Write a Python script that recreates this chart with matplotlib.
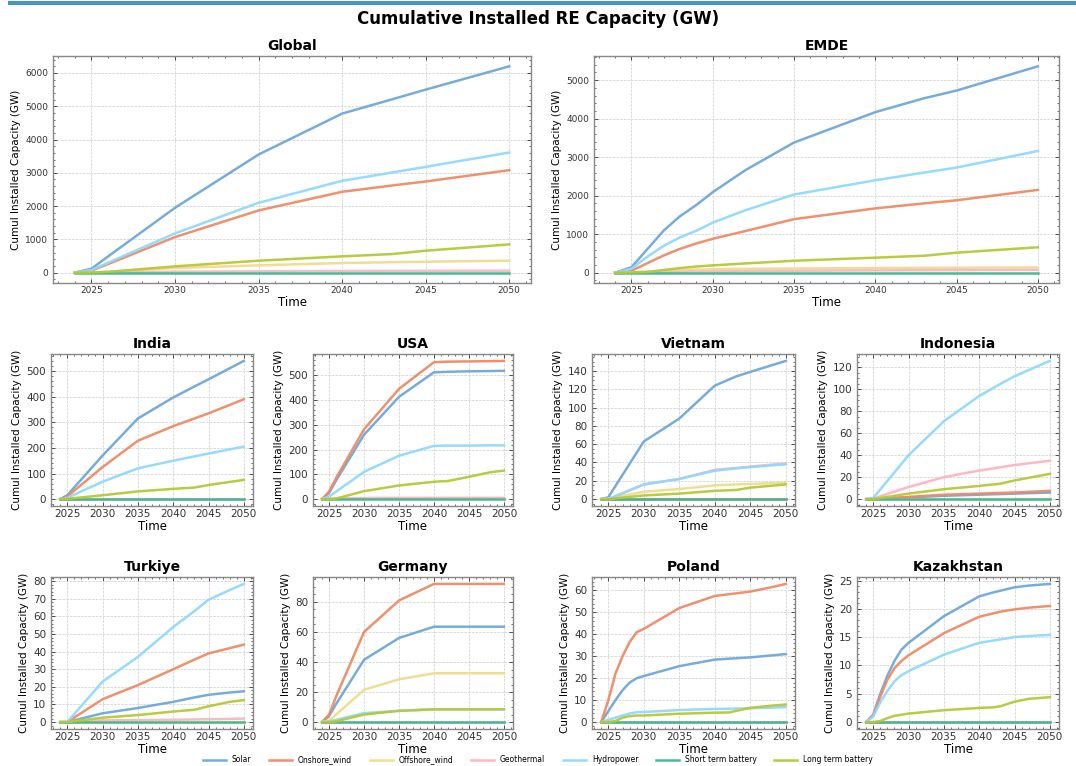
import matplotlib
matplotlib.use("Agg")
import matplotlib.pyplot as plt
from matplotlib.ticker import MultipleLocator, AutoMinorLocator

techs = ["Solar", "Onshore_wind", "Offshore_wind", "Geothermal",
         "Hydropower", "Short term battery", "Long term battery"]
colors = ["#6fa8dc", "#f08a65", "#f0dc8c", "#ffb3c1",
          "#8fd8ff", "#3db892", "#b5c934"]

# ---- data (GW), one dict per region: years + one list per technology ----
global_ = {
    "years": [2024, 2025, 2026, 2030, 2035, 2040, 2043, 2045, 2050],
    "Solar": [0, 120, 490, 1950, 3550, 4780, 5210, 5500, 6200],
    "Onshore_wind": [0, 60, 260, 1070, 1870, 2430, 2620, 2740, 3080],
    "Offshore_wind": [0, 5, 30, 140, 220, 290, 315, 330, 360],
    "Geothermal": [0, 2, 8, 30, 40, 50, 54, 56, 60],
    "Hydropower": [0, 80, 300, 1180, 2100, 2760, 3010, 3180, 3610],
    "Short term battery": [0, 0, 0, 0, 0, 0, 0, 0, 0],
    "Long term battery": [0, 5, 25, 190, 360, 490, 560, 660, 850],
}
emde = {
    "years": [2024, 2025, 2026, 2027, 2028, 2029, 2030, 2032, 2035, 2040, 2043, 2045, 2050],
    "Solar": [0, 140, 620, 1100, 1470, 1760, 2090, 2660, 3380, 4170, 4530, 4730, 5360],
    "Onshore_wind": [0, 50, 250, 450, 620, 760, 880, 1080, 1390, 1670, 1800, 1880, 2150],
    "Offshore_wind": [0, 10, 30, 50, 65, 80, 90, 100, 110, 120, 125, 128, 135],
    "Geothermal": [0, 2, 8, 15, 22, 28, 32, 40, 50, 60, 64, 66, 72],
    "Hydropower": [0, 100, 420, 700, 920, 1090, 1300, 1620, 2030, 2400, 2600, 2730, 3160],
    "Short term battery": [0, 0, 0, 0, 0, 0, 0, 0, 0, 0, 0, 0, 0],
    "Long term battery": [0, 5, 20, 70, 120, 160, 190, 240, 310, 390, 440, 520, 660],
}
india = {
    "years": [2024, 2025, 2030, 2035, 2040, 2043, 2045, 2050],
    "Solar": [0, 15, 170, 315, 397, 440, 468, 540],
    "Onshore_wind": [0, 10, 125, 228, 285, 315, 335, 390],
    "Offshore_wind": [0, 0, 0, 0, 0, 0, 0, 0],
    "Geothermal": [0, 0, 0, 0, 0, 0, 0, 0],
    "Hydropower": [0, 5, 68, 120, 150, 167, 178, 205],
    "Short term battery": [0, 0, 0, 0, 0, 0, 0, 0],
    "Long term battery": [0, 1, 15, 30, 40, 45, 55, 75],
}
usa = {
    "years": [2024, 2025, 2026, 2030, 2035, 2040, 2042, 2045, 2048, 2050],
    "Solar": [0, 25, 75, 260, 413, 512, 514, 516, 517, 518],
    "Onshore_wind": [0, 30, 85, 282, 445, 553, 555, 556, 557, 558],
    "Offshore_wind": [0, 0, 1, 2, 2, 3, 3, 3, 3, 3],
    "Geothermal": [0, 1, 2, 4, 5, 5, 5, 5, 5, 5],
    "Hydropower": [0, 10, 30, 110, 175, 215, 216, 216, 217, 217],
    "Short term battery": [0, 0, 0, 0, 0, 0, 0, 0, 0, 0],
    "Long term battery": [0, 0, 2, 32, 55, 70, 73, 90, 108, 115],
}
vietnam = {
    "years": [2024, 2025, 2030, 2035, 2040, 2043, 2045, 2050],
    "Solar": [0, 2, 63, 88, 124, 134, 139, 151],
    "Onshore_wind": [0, 0, 0, 0, 0, 0, 0, 0],
    "Offshore_wind": [0, 0.5, 8, 11, 15, 16, 16.5, 18],
    "Geothermal": [0, 0, 16, 22, 32, 34, 35.5, 39],
    "Hydropower": [0, 0, 16, 22, 31, 33.5, 35, 38],
    "Short term battery": [0, 0, 0, 0, 0, 0, 0, 0],
    "Long term battery": [0, 0, 4, 6, 9, 10, 12.5, 16],
}
indonesia = {
    "years": [2024, 2025, 2030, 2035, 2040, 2043, 2045, 2050],
    "Solar": [0, 0, 1.5, 3, 4, 4.6, 5, 6],
    "Onshore_wind": [0, 0, 2, 4, 5, 5.6, 6, 7.5],
    "Offshore_wind": [0, 0, 0, 0, 0, 0, 0, 0],
    "Geothermal": [0, 0.5, 11, 20, 26, 29, 31, 35],
    "Hydropower": [0, 1, 40, 71, 94, 105, 112, 126],
    "Short term battery": [0, 0, 0, 0, 0, 0, 0, 0],
    "Long term battery": [0, 0, 5, 9, 12, 14, 17, 23],
}
turkiye = {
    "years": [2024, 2025, 2030, 2035, 2040, 2043, 2045, 2048, 2050],
    "Solar": [0, 0, 5, 8, 11.5, 14, 15.5, 16.8, 17.5],
    "Onshore_wind": [0, 0, 13, 21, 30, 35.5, 39, 42, 44],
    "Offshore_wind": [0, 0, 0, 0, 0, 0, 0, 0, 0],
    "Geothermal": [0, 0, 1, 1.1, 1.3, 1.5, 1.6, 1.8, 2],
    "Hydropower": [0, 0, 23, 37, 54, 63, 69.5, 75, 78.5],
    "Short term battery": [0, 0, 0, 0, 0, 0, 0, 0, 0],
    "Long term battery": [0, 0, 2.5, 4, 6, 7, 9, 11.5, 12.5],
}
germany = {
    "years": [2024, 2025, 2026, 2030, 2035, 2040, 2045, 2050],
    "Solar": [0, 4, 12, 41.5, 56, 63.5, 63.5, 63.5],
    "Onshore_wind": [0, 5, 17, 60, 81, 92, 92, 92],
    "Offshore_wind": [0, 1, 5, 21.5, 28.5, 32.5, 32.5, 32.5],
    "Geothermal": [0, 0, 0, 0, 0, 0, 0, 0],
    "Hydropower": [0, 0.5, 1.5, 6, 7.5, 8.5, 8.5, 8.5],
    "Short term battery": [0, 0, 0, 0, 0, 0, 0, 0],
    "Long term battery": [0, 0, 0.5, 5, 7.5, 8.5, 8.5, 8.5],
}
poland = {
    "years": [2024, 2025, 2026, 2027, 2028, 2029, 2030, 2035, 2040, 2042, 2045, 2048, 2050],
    "Solar": [0, 5, 10, 14.5, 18, 20, 21, 25.5, 28.5, 28.9, 29.5, 30.4, 31],
    "Onshore_wind": [0, 10, 22, 30, 36.5, 41, 42.5, 52, 57.5, 58.3, 59.5, 61.5, 63],
    "Offshore_wind": [0, 0, 0, 0, 0, 0, 0, 0, 0, 0, 0, 0, 0],
    "Geothermal": [0, 0, 0, 0, 0, 0, 0, 0, 0, 0, 0, 0, 0],
    "Hydropower": [0, 1, 2, 3, 3.9, 4.5, 4.6, 5.5, 6, 6.1, 6.3, 6.6, 6.8],
    "Short term battery": [0, 0, 0, 0, 0, 0, 0, 0, 0, 0, 0, 0, 0],
    "Long term battery": [0, 0, 0.5, 2, 2.7, 3, 3, 3.8, 4.3, 4.4, 6.5, 7.5, 8],
}
kazakhstan = {
    "years": [2024, 2025, 2026, 2027, 2028, 2029, 2030, 2035, 2040, 2042, 2043, 2045, 2047, 2050],
    "Solar": [0, 1.3, 5, 8.2, 10.8, 12.8, 14, 18.7, 22.2, 22.9, 23.2, 23.8, 24.1, 24.4],
    "Onshore_wind": [0, 1.2, 4.5, 7.5, 9.5, 10.8, 11.8, 15.7, 18.6, 19.2, 19.5, 19.9, 20.2, 20.5],
    "Offshore_wind": [0, 0, 0, 0, 0, 0, 0, 0, 0, 0, 0, 0, 0, 0],
    "Geothermal": [0, 0, 0, 0, 0, 0, 0, 0, 0, 0, 0, 0, 0, 0],
    "Hydropower": [0, 1, 3.5, 5.5, 7.2, 8.3, 9, 11.9, 14, 14.4, 14.6, 15, 15.2, 15.4],
    "Short term battery": [0, 0, 0, 0, 0, 0, 0, 0, 0, 0, 0, 0, 0, 0],
    "Long term battery": [0, 0, 0.2, 0.7, 1.1, 1.3, 1.5, 2.1, 2.5, 2.6, 2.8, 3.6, 4.1, 4.4],
}

regions = [("Global", global_), ("EMDE", emde),
           ("India", india), ("USA", usa), ("Vietnam", vietnam), ("Indonesia", indonesia),
           ("Turkiye", turkiye), ("Germany", germany), ("Poland", poland), ("Kazakhstan", kazakhstan)]
y_steps = [1000, 1000, 100, 100, 20, 20, 10, 20, 10, 5]

W, H = 1076, 766
fig = plt.figure(figsize=(W / 100, H / 100), dpi=100)

# axes boxes in pixels: left, top, right, bottom
boxes = [(53, 56, 531, 283), (594, 56, 1059, 283),
         (51, 354, 253, 506), (313, 354, 513, 506), (592, 354, 795, 506), (857, 354, 1059, 506),
         (51, 577, 253, 729), (313, 577, 513, 729), (592, 577, 795, 729), (857, 577, 1059, 729)]

# blue band along the top
fig.add_artist(plt.Rectangle((8 / W, 1 - 5 / H), 1 - 8 / W, 4 / H,
                             transform=fig.transFigure, color="#4796c4", lw=0))
fig.suptitle("Cumulative Installed RE Capacity (GW)", fontsize=12, fontweight="bold",
             y=1 - 19 / H, va="center")

handles = []
for (name, d), (l, t, r, b), step in zip(regions, boxes, y_steps):
    ax = fig.add_axes([l / W, 1 - b / H, (r - l) / W, (b - t) / H])
    big = name in ("Global", "EMDE")
    handles = []
    for tech, c in zip(techs, colors):
        h, = ax.plot(d["years"], d[tech], color=c, lw=1.8, alpha=0.95, label=tech)
        handles.append(h)
    ax.set_title(name, fontsize=10, fontweight="bold", pad=4)
    ax.set_xlabel("Time", fontsize=8.5, labelpad=1)
    ax.set_ylabel("Cumul Installed Capacity (GW)", fontsize=7.5, labelpad=3)
    ax.xaxis.set_major_locator(MultipleLocator(5))
    ax.xaxis.set_minor_locator(MultipleLocator(1))
    ax.yaxis.set_major_locator(MultipleLocator(step))
    ax.yaxis.set_minor_locator(AutoMinorLocator())
    ax.tick_params(which="both", direction="in", top=True, right=True,
                   labelsize=6.5 if big else 7.5, colors="#333333")
    ax.tick_params(axis="x", pad=2)
    ax.tick_params(which="major", length=3, width=0.6)
    ax.tick_params(which="minor", length=1.5, width=0.5)
    ax.grid(True, which="major", ls="--", lw=0.5, color="#cccccc")
    for s in ax.spines.values():
        s.set_color("#888888")
        s.set_linewidth(1.0)

fig.legend(handles, techs, loc="center", ncol=7, bbox_to_anchor=(0.5, 1 - 760 / H),
           frameon=False, fontsize=5.5, handlelength=3, columnspacing=2.3,
           borderpad=0, handletextpad=0.8)

fig.savefig("out.png", dpi=100)
